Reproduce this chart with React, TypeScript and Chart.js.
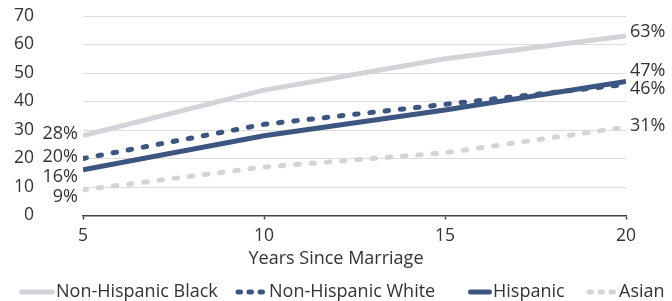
import React, { useEffect, useRef } from "react";
import { Chart, registerables } from "chart.js";

Chart.register(...registerables);

const years = [5, 10, 15, 20];
const seriesNames = ["Non-Hispanic Black", "Non-Hispanic White", "Hispanic", "Asian"];
const blackValues = [28, 44, 55, 63];
const whiteValues = [20, 32, 39, 46];
const hispanicValues = [16, 28, 37, 47];
const asianValues = [9, 17, 22, 31];
const yMin = 0;
const yMax = 70;
const yStep = 10;
const xTitle = "Years Since Marriage";

const FONT = "'Open Sans'";
const FS = 18;
const TICK_FS = 17.5;
const TEXT = "#333333";
const GRAY = "#d2d4d9";
const BLUE = "#3c5681";
const DOTS = [3.5, 11.8];

const styles = [
  { color: GRAY, dash: [] as number[], startDy: -2, endDy: -4 },
  { color: BLUE, dash: DOTS, startDy: -1.5, endDy: 4 },
  { color: BLUE, dash: [] as number[], startDy: 7, endDy: -11 },
  { color: GRAY, dash: DOTS, startDy: 7, endDy: -1 },
];
const legendX = [19, 235, 468, 586];
const legendW = [36, 33, 24, 32];

const allValues = [blackValues, whiteValues, hispanicValues, asianValues];

const endLabels = {
  id: "endLabels",
  afterDatasetsDraw(chart: any) {
    const ctx = chart.ctx;
    ctx.save();
    ctx.font = `${FS}px ${FONT}`;
    ctx.fillStyle = TEXT;
    ctx.textBaseline = "middle";
    chart.data.datasets.forEach((ds: any, i: number) => {
      const meta = chart.getDatasetMeta(i);
      const first = meta.data[0];
      const last = meta.data[meta.data.length - 1];
      const vals = allValues[i];
      ctx.textAlign = "right";
      ctx.fillText(`${vals[0]}%`, first.x - 5, first.y + styles[i].startDy);
      ctx.textAlign = "left";
      ctx.fillText(`${vals[vals.length - 1]}%`, last.x + 4, last.y + styles[i].endDy);
    });
    ctx.restore();
  },
};

const customLegend = {
  id: "customLegend",
  afterDraw(chart: any) {
    const ctx = chart.ctx;
    const y = 292;
    ctx.save();
    ctx.font = `${FS}px ${FONT}`;
    ctx.fillStyle = TEXT;
    ctx.textBaseline = "middle";
    ctx.textAlign = "center";
    ctx.fillText(xTitle, chart.width / 2, 258.5);
    ctx.textAlign = "left";
    seriesNames.forEach((name, i) => {
      const x0 = legendX[i];
      const w = legendW[i];
      ctx.strokeStyle = styles[i].color;
      ctx.lineWidth = 5;
      ctx.lineCap = "round";
      if (styles[i].dash.length) {
        ctx.setLineDash([2.5, 8.5]);
        ctx.beginPath();
        ctx.moveTo(x0 + 3, y);
        ctx.lineTo(x0 + w - 1, y);
        ctx.stroke();
        ctx.setLineDash([]);
      } else {
        ctx.beginPath();
        ctx.moveTo(x0 + 2.5, y);
        ctx.lineTo(x0 + w - 2.5, y);
        ctx.stroke();
      }
      ctx.fillText(name, x0 + w + 1, y);
    });
    ctx.restore();
  },
};

export default function App() {
  const ref = useRef<HTMLCanvasElement>(null);
  useEffect(() => {
    document.body.style.margin = "0";
    const chart = new Chart(ref.current!, {
      type: "line",
      data: {
        datasets: allValues.map((vals, i) => ({
          label: seriesNames[i],
          data: vals.map((v, j) => ({ x: years[j], y: v })),
          borderColor: styles[i].color,
          backgroundColor: styles[i].color,
          borderWidth: 5,
          borderDash: styles[i].dash,
          borderCapStyle: styles[i].dash.length ? "round" : "butt",
          borderJoinStyle: "round",
          pointRadius: 0,
          tension: 0,
          fill: false,
        })),
      },
      options: {
        responsive: false,
        animation: false,
        layout: { padding: { left: 0, right: 46, top: 16, bottom: 45.5 } },
        plugins: { legend: { display: false }, tooltip: { enabled: false } },
        scales: {
          x: {
            type: "linear",
            min: years[0],
            max: years[years.length - 1],
            ticks: {
              stepSize: 5,
              font: { family: FONT, size: TICK_FS },
              color: TEXT,
              padding: 6,
              maxRotation: 0,
              autoSkip: false,
            },
            grid: {
              drawOnChartArea: false,
              drawTicks: true,
              tickLength: 4,
              tickColor: "#444444",
              tickWidth: 1.5,
            },
            border: { display: true, color: "#444444", width: 1.5 },
            afterFit(scale: any) {
              scale.height = 40;
            },
          },
          y: {
            min: yMin,
            max: yMax,
            ticks: {
              stepSize: yStep,
              font: { family: FONT, size: TICK_FS },
              color: TEXT,
              padding: 0,
              autoSkip: false,
            },
            grid: {
              color: "#dcdcdc",
              lineWidth: 1,
              drawTicks: true,
              tickLength: 49,
              tickColor: "rgba(0,0,0,0)",
            },
            border: { display: false },
            afterFit(scale: any) {
              scale.width = 83;
            },
          },
        },
      },
      plugins: [endLabels, customLegend],
    });
    return () => chart.destroy();
  }, []);
  return (
    <div style={{ width: 672, height: 301 }}>
      <canvas ref={ref} width={672} height={301} style={{ display: "block" }} />
    </div>
  );
}
